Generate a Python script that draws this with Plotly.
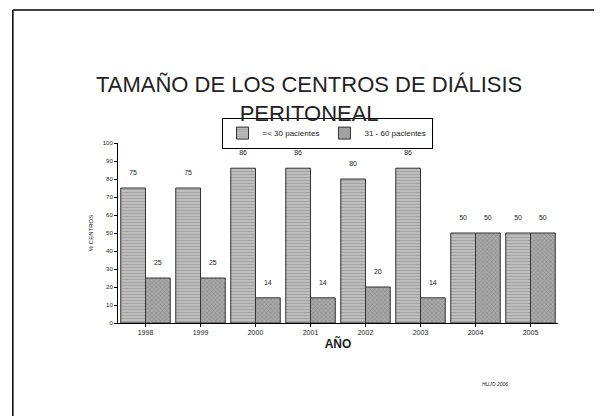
"""Tamaño de los centros de diálisis peritoneal, 1998-2005."""

import plotly.graph_objects as go

YEARS = ["1998", "1999", "2000", "2001", "2002", "2003", "2004", "2005"]
SMALL_CENTRES = [75, 75, 86, 86, 80, 86, 50, 50]
MEDIUM_CENTRES = [25, 25, 14, 14, 20, 14, 50, 50]
SERIES_NAMES = ["=< 30 pacientes", "31 - 60 pacientes"]

FONT = "Liberation Sans, Arial, sans-serif"
INK = "#1a1a1a"

fig = go.Figure()
fig.add_trace(
    go.Bar(
        x=YEARS,
        y=SMALL_CENTRES,
        name=SERIES_NAMES[0],
        marker=dict(
            color="#bdbdbd",
            line=dict(color="#333333", width=1),
            pattern=dict(shape="-", fgcolor="#8a8a8a", size=3, solidity=0.35),
        ),
    )
)
fig.add_trace(
    go.Bar(
        x=YEARS,
        y=MEDIUM_CENTRES,
        name=SERIES_NAMES[1],
        marker=dict(
            color="#a8a8a8",
            line=dict(color="#333333", width=1),
            pattern=dict(shape="x", fgcolor="#707070", size=3, solidity=0.35),
        ),
    )
)
# the value labels float a line above the bars, as in the scan
fig.update_traces(
    texttemplate="%{y}<br>&nbsp;",
    textposition="outside",
    textfont=dict(size=7, color=INK, family=FONT),
    cliponaxis=False,
)

fig.update_layout(
    width=602,
    height=416,
    margin=dict(l=110, r=52, t=135, b=101),
    paper_bgcolor="white",
    plot_bgcolor="white",
    font=dict(family=FONT, color=INK),
    barmode="group",
    bargap=0.1,
    bargroupgap=0,
    showlegend=True,
    legend=dict(
        orientation="h",
        x=0.475,
        xanchor="center",
        y=1.055,
        yanchor="middle",
        bordercolor="#000000",
        borderwidth=1,
        font=dict(size=8, family=FONT),
        itemwidth=30,
        tracegroupgap=0,
    ),
)
fig.add_annotation(
    text="TAMAÑO DE LOS CENTROS DE DIÁLISIS<br>PERITONEAL",
    xref="paper", yref="paper",
    x=0.433, y=1.247,
    xanchor="center", yanchor="middle",
    showarrow=False,
    font=dict(size=22, color="#222222", family=FONT),
)
fig.update_yaxes(
    range=[0, 100],
    dtick=10,
    showgrid=False,
    zeroline=False,
    showline=True,
    linecolor="#000000",
    linewidth=1,
    ticks="outside",
    ticklen=3,
    tickcolor="#000000",
    tickfont=dict(size=6),
    title=dict(text="% CENTROS", font=dict(size=6), standoff=8),
)
fig.update_xaxes(
    showgrid=False,
    showline=True,
    linecolor="#000000",
    linewidth=1,
    ticks="outside",
    ticklen=3,
    tickcolor="#000000",
    tickfont=dict(size=7),
    title=dict(text="<b>AÑO</b>", font=dict(size=12), standoff=4),
)

# page frame: only the top and left edges are visible in the scan
fig.add_shape(
    type="line", xref="paper", yref="paper",
    x0=-0.239, x1=1.2, y0=1.739, y1=1.739,
    line=dict(color="#000000", width=1.5),
)
fig.add_shape(
    type="line", xref="paper", yref="paper",
    x0=-0.239, x1=-0.239, y0=1.739, y1=-0.6,
    line=dict(color="#000000", width=1.5),
)
fig.add_annotation(
    text="<i>HUJO 2006</i>",
    xref="paper", yref="paper",
    x=0.89, y=-0.367,
    showarrow=False,
    font=dict(size=5, color=INK),
)

fig.write_html("out.html")
